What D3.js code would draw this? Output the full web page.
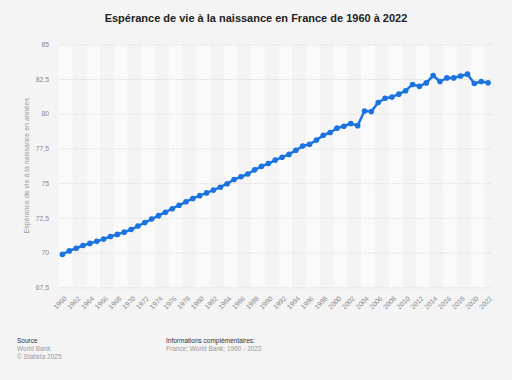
<!DOCTYPE html>
<html>
<head>
<meta charset="utf-8">
<script src="https://cdn.jsdelivr.net/npm/d3@7"></script>
<style>
	body { margin: 0; background: #f4f4f4; font-family: "Liberation Sans", Arial, sans-serif; }
	svg { display: block; }
</style>
</head>
<body>
<svg id="chart" width="512" height="380"></svg>
<script>
var years = d3.range(1960, 2023);
var lifeExp = [69.87, 70.12, 70.31, 70.51, 70.66, 70.81, 70.97, 71.16, 71.31, 71.47,
	71.66, 71.91, 72.16, 72.41, 72.66, 72.91, 73.16, 73.41, 73.66, 73.90,
	74.10, 74.30, 74.50, 74.71, 74.96, 75.26, 75.46, 75.66, 75.96, 76.21,
	76.41, 76.66, 76.87, 77.07, 77.37, 77.67, 77.80, 78.10, 78.45, 78.65,
	78.96, 79.10, 79.30, 79.14, 80.20, 80.16, 80.81, 81.11, 81.21, 81.41,
	81.66, 82.11, 81.97, 82.22, 82.75, 82.32, 82.58, 82.58, 82.72, 82.85,
	82.18, 82.32, 82.23];
var yTicks = [67.5, 70, 72.5, 75, 77.5, 80, 82.5, 85];

var svg = d3.select('#chart');
var pLeft = 59, pRight = 491.5, pTop = 44.3, pBottom = 287.3;

var x = d3.scaleBand().domain(years).range([pLeft, pRight]);
var y = d3.scaleLinear().domain([67.5, 85]).range([pBottom, pTop]);

// alternating bands, two years wide
var pairs = d3.range(0, years.length, 2);
svg.append('g').selectAll('rect').data(pairs).enter().append('rect')
	.attr('x', function(i) { return x(years[i]); })
	.attr('y', pTop)
	.attr('width', function(i) { return x.step() * Math.min(2, years.length - i); })
	.attr('height', pBottom - pTop)
	.attr('fill', function(i) { return (i / 2) % 2 === 0 ? '#fafafa' : '#f4f4f4'; });

// grid + y labels
var fmt = function(v) { return String(v).replace('.', ','); };
var yAxis = svg.append('g')
	.attr('transform', 'translate(' + pLeft + ',0)')
	.call(d3.axisLeft(y).tickValues(yTicks).tickSize(-(pRight - pLeft)).tickFormat(fmt).tickPadding(10));
yAxis.select('.domain').remove();
yAxis.selectAll('.tick line').attr('stroke', '#dcdcdc').attr('stroke-dasharray', '2,1').attr('stroke-width', 0.8);
yAxis.selectAll('.tick text').attr('fill', '#8a8a8a').attr('font-size', 6.8).attr('font-family', '"Liberation Sans", Arial, sans-serif');

// x labels
var xAxis = svg.append('g')
	.attr('transform', 'translate(0,' + pBottom + ')')
	.call(d3.axisBottom(x).tickValues(years.filter(function(d) { return d % 2 === 0; })).tickSize(0));
xAxis.select('.domain').remove();
xAxis.selectAll('.tick text')
	.attr('fill', '#8a8a8a').attr('font-size', 6.8).attr('font-family', '"Liberation Sans", Arial, sans-serif')
	.attr('text-anchor', 'end')
	.attr('y', 0)
	.attr('dy', '0.35em')
	.attr('transform', 'translate(3,10) rotate(-45)');

// line
var line = d3.line()
	.x(function(d, i) { return x(years[i]) + x.bandwidth() / 2; })
	.y(function(d) { return y(d); });
svg.append('path').datum(lifeExp)
	.attr('d', line)
	.attr('fill', 'none')
	.attr('stroke', '#1a73e0')
	.attr('stroke-width', 2.5)
	.attr('stroke-linejoin', 'round');
svg.append('g').selectAll('circle').data(lifeExp).enter().append('circle')
	.attr('cx', function(d, i) { return x(years[i]) + x.bandwidth() / 2; })
	.attr('cy', function(d) { return y(d); })
	.attr('r', 2.8)
	.attr('fill', '#1a73e0');

// y title
svg.append('text')
	.attr('transform', 'translate(29,' + ((pTop + pBottom) / 2) + ') rotate(-90)')
	.attr('text-anchor', 'middle')
	.attr('font-size', 7).attr('fill', '#9a9a9a')
	.text('Espérance de vie à la naissance en années');

// title
svg.append('text')
	.attr('x', 256).attr('y', 22)
	.attr('text-anchor', 'middle')
	.attr('font-size', 11).attr('font-weight', 'bold').attr('fill', '#222')
	.text('Espérance de vie à la naissance en France de 1960 à 2022');

// footer
var foot = svg.append('g').attr('font-size', 6.5);
foot.append('text').attr('x', 17).attr('y', 343).attr('fill', '#333').text('Source');
foot.append('text').attr('x', 17).attr('y', 351).attr('fill', '#9a9a9a').text('World Bank');
foot.append('text').attr('x', 17).attr('y', 359).attr('fill', '#9a9a9a').text('© Statista 2025');
foot.append('text').attr('x', 166).attr('y', 343).attr('fill', '#333').text('Informations complémentaires:');
foot.append('text').attr('x', 166).attr('y', 351).attr('fill', '#9a9a9a').text('France; World Bank; 1960 - 2022');
</script>
</body>
</html>
